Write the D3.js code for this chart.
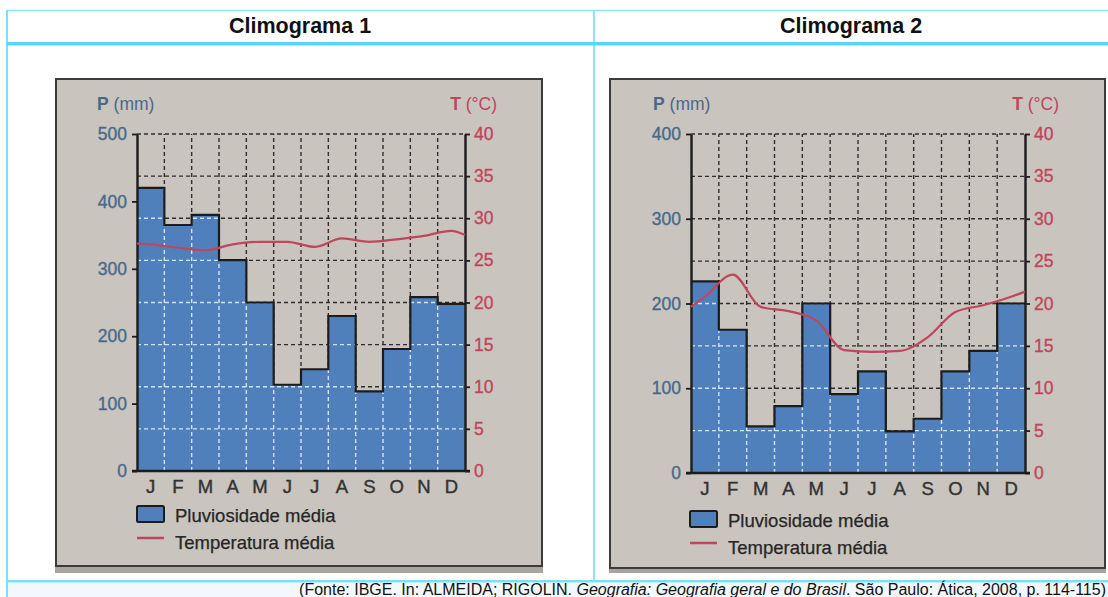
<!DOCTYPE html>
<html>
<head>
<meta charset="utf-8">
<script src="https://cdn.jsdelivr.net/npm/d3@7"></script>
<style>
  body { margin: 0; background: #fff; }
  svg { display: block; font-family: Arial, "Liberation Sans", sans-serif; }
</style>
</head>
<body>
<svg id="page" width="1108" height="597"></svg>
<script>
// chart data
const months = ["J", "F", "M", "A", "M", "J", "J", "A", "S", "O", "N", "D"];
const tempTicks = [0, 5, 10, 15, 20, 25, 30, 35, 40];

const precip1 = [420, 365, 380, 313, 250, 128, 151, 230, 118, 181, 258, 248];
const temp1 = [26.9, 26.5, 26.2, 26.9, 27.2, 27.2, 26.6, 27.6, 27.2, 27.5, 27.9, 28.5];
const tempEnds1 = [27.0, 28.0];
const precipTicks1 = [0, 100, 200, 300, 400, 500];

const precip2 = [226, 169, 55, 79, 200, 93, 120, 49, 64, 120, 144, 200];
const temp2 = [20.8, 23.4, 19.6, 19.1, 18.0, 14.5, 14.3, 14.4, 16.0, 19.0, 19.8, 20.8];
const tempEnds2 = [19.6, 21.4];
const precipTicks2 = [0, 100, 200, 300, 400];

const headers = ["Climograma 1", "Climograma 2"];

const BLUE = "#4f80bd", RED = "#c0465d", PCOL = "#48698b", BEIGE = "#c9c4bd";

const svg = d3.select("#page");

// table lines
svg.append("rect").attr("x", 7).attr("y", 583).attr("width", 1101).attr("height", 14).attr("fill", "#f3f8ff");
svg.append("line").attr("x1", 7).attr("x2", 1108).attr("y1", 10.5).attr("y2", 10.5).attr("stroke", "#8ee2fb").attr("stroke-width", 1.5);
svg.append("line").attr("x1", 7).attr("x2", 7).attr("y1", 10).attr("y2", 597).attr("stroke", "#80dcfb").attr("stroke-width", 2);
svg.append("line").attr("x1", 594).attr("x2", 594).attr("y1", 10).attr("y2", 581).attr("stroke", "#8ee2fb").attr("stroke-width", 2);
svg.append("rect").attr("x", 7).attr("y", 42).attr("width", 1101).attr("height", 3.5).attr("fill", "#55d7fc");
svg.append("rect").attr("x", 7).attr("y", 580).attr("width", 1101).attr("height", 2.5).attr("fill", "#80dcfb");

svg.selectAll(".hdr").data(headers).enter().append("text")
    .attr("x", function (d, i) { return i == 0 ? 300 : 851; })
    .attr("y", 33).attr("text-anchor", "middle")
    .attr("font-weight", "bold").attr("font-size", 21.5).attr("fill", "#111")
    .text(function (d) { return d; });

const foot = svg.append("text").attr("x", 1106).attr("y", 595).attr("text-anchor", "end")
    .attr("font-size", 16).attr("fill", "#111");
foot.append("tspan").text("(Fonte: IBGE. In: ALMEIDA; RIGOLIN. ");
foot.append("tspan").attr("font-style", "italic").text("Geografia: Geografia geral e do Brasil");
foot.append("tspan").text(". São Paulo: Ática, 2008, p. 114-115)");

function drawClimogram(id, o) {
    const g = svg.append("g");

    // photo edge + frame
    g.append("rect").attr("x", o.frame[0]).attr("y", o.frame[1]).attr("width", o.frame[2] - o.frame[0])
        .attr("height", o.photoBottom - o.frame[1]).attr("fill", "#a9a49e");
    g.append("rect").attr("x", o.frame[0] + 1).attr("y", o.frame[1] + 1).attr("width", o.frame[2] - o.frame[0] - 2)
        .attr("height", o.frame[3] - o.frame[1] - 2).attr("fill", BEIGE).attr("stroke", "#3b3b3b").attr("stroke-width", 2);

    const x = d3.scaleLinear().domain([0, 12]).range([o.left, o.right]);
    const xb = d3.scaleBand().domain(d3.range(12)).range([o.left, o.right]);
    const y = d3.scaleLinear().domain([0, o.pMax]).range([o.bottom, o.top]);
    const t = d3.scaleLinear().domain([0, 40]).range([o.bottom, o.top]);

    function grid(sel, color) {
        sel.selectAll(".h").data(tempTicks.slice(1)).enter().append("line")
            .attr("x1", o.left).attr("x2", o.right)
            .attr("y1", function (d) { return t(d); }).attr("y2", function (d) { return t(d); });
        sel.selectAll(".v").data(d3.range(1, 12)).enter().append("line")
            .attr("x1", function (d) { return x(d); }).attr("x2", function (d) { return x(d); })
            .attr("y1", o.bottom).attr("y2", o.top);
        sel.selectAll("line").attr("stroke", color).attr("stroke-width", 1.4).attr("stroke-dasharray", "4,3");
    }

    grid(g.append("g"), "#2e2e2e");

    // bars
    g.append("clipPath").attr("id", "bars" + id).selectAll("rect").data(o.precip).enter().append("rect")
        .attr("x", function (d, i) { return xb(i); }).attr("y", function (d) { return y(d); })
        .attr("width", xb.bandwidth()).attr("height", function (d) { return o.bottom - y(d); });
    g.append("g").selectAll("rect").data(o.precip).enter().append("rect")
        .attr("x", function (d, i) { return xb(i); }).attr("y", function (d) { return y(d); })
        .attr("width", xb.bandwidth() + 0.5).attr("height", function (d) { return o.bottom - y(d); })
        .attr("fill", BLUE);
    grid(g.append("g").attr("clip-path", "url(#bars" + id + ")").attr("opacity", 0.85), "#eef2f8");

    // step outline on the bar tops
    const steps = [];
    o.precip.forEach(function (d, i) { steps.push([i, d]); steps.push([i + 1, d]); });
    g.append("path").datum(steps)
        .attr("d", d3.line().x(function (d) { return x(d[0]); }).y(function (d) { return y(d[1]); }))
        .attr("fill", "none").attr("stroke", "#1c1c1c").attr("stroke-width", 2.2);

    // axes
    const axL = g.append("g").attr("transform", "translate(" + o.left + ",0)")
        .call(d3.axisLeft(y).tickValues(o.pTicks).tickSize(5).tickSizeOuter(0).tickPadding(5));
    axL.selectAll("text").attr("fill", PCOL).attr("font-size", 17.5).attr("stroke", PCOL).attr("stroke-width", 0.35);
    const axR = g.append("g").attr("transform", "translate(" + o.right + ",0)")
        .call(d3.axisRight(t).tickValues(tempTicks).tickSize(5).tickSizeOuter(0).tickPadding(3));
    axR.selectAll("text").attr("fill", RED).attr("font-size", 17.5).attr("x", 9).attr("stroke", RED).attr("stroke-width", 0.35);
    const axB = g.append("g").attr("transform", "translate(0," + o.bottom + ")")
        .call(d3.axisBottom(xb).tickFormat(function (i) { return months[i]; }).tickSize(0).tickPadding(9));
    axB.selectAll("text").attr("fill", "#333").attr("font-size", 18.5).attr("stroke", "#333").attr("stroke-width", 0.4);
    axB.select(".domain").attr("d", "M" + (o.left - 5) + ",0H" + (o.right + 5));
    [axL, axR, axB].forEach(function (a) {
        a.select(".domain").attr("stroke", "#1c1c1c").attr("stroke-width", 2.4);
        a.selectAll(".tick line").attr("stroke", "#1c1c1c").attr("stroke-width", 1.8);
        a.attr("font-family", null);
    });

    // temperature line
    const tPts = [[0, o.tempEnds[0]]];
    o.temp.forEach(function (d, i) { tPts.push([i + 0.5, d]); });
    tPts.push([12, o.tempEnds[1]]);
    g.append("path").datum(tPts)
        .attr("d", d3.line().curve(d3.curveMonotoneX).x(function (d) { return x(d[0]); }).y(function (d) { return t(d[1]); }))
        .attr("fill", "none").attr("stroke", RED).attr("stroke-width", 2.2);

    // axis titles
    const pt = g.append("text").attr("x", o.pLabel[0]).attr("y", o.pLabel[1]).attr("font-size", 17.5).attr("fill", PCOL);
    pt.append("tspan").attr("font-weight", "bold").text("P");
    pt.append("tspan").text(" (mm)");
    const tt = g.append("text").attr("x", o.tLabel[0]).attr("y", o.tLabel[1]).attr("font-size", 17.5)
        .attr("fill", RED).attr("text-anchor", "end");
    tt.append("tspan").attr("font-weight", "bold").text("T");
    tt.append("tspan").text(" (°C)");

    // legend
    const lg = o.legend;
    g.append("rect").attr("x", lg[0]).attr("y", lg[1]).attr("width", 27).attr("height", 16)
        .attr("fill", BLUE).attr("stroke", "#1c1c1c").attr("stroke-width", 2).attr("rx", 1.5);
    g.append("text").attr("x", lg[0] + 38).attr("y", lg[1] + 16).attr("font-size", 18.5).attr("fill", "#262626")
        .attr("stroke", "#262626").attr("stroke-width", 0.25).text("Pluviosidade média");
    g.append("line").attr("x1", lg[0]).attr("x2", lg[0] + 27).attr("y1", lg[1] + 32).attr("y2", lg[1] + 32)
        .attr("stroke", RED).attr("stroke-width", 2.5);
    g.append("text").attr("x", lg[0] + 38).attr("y", lg[1] + 43).attr("font-size", 18.5).attr("fill", "#262626")
        .attr("stroke", "#262626").attr("stroke-width", 0.25).text("Temperatura média");
}

drawClimogram(1, {
    frame: [55, 78, 543, 567], photoBottom: 573,
    left: 137, right: 465, top: 134, bottom: 471, pMax: 500,
    precip: precip1, temp: temp1, tempEnds: tempEnds1, pTicks: precipTicks1,
    pLabel: [97, 110], tLabel: [497, 110], legend: [137, 506]
});
drawClimogram(2, {
    frame: [609, 78, 1106, 569], photoBottom: 573,
    left: 691, right: 1025, top: 134, bottom: 473, pMax: 400,
    precip: precip2, temp: temp2, tempEnds: tempEnds2, pTicks: precipTicks2,
    pLabel: [653, 110], tLabel: [1059, 110], legend: [690, 511]
});
</script>
</body>
</html>
